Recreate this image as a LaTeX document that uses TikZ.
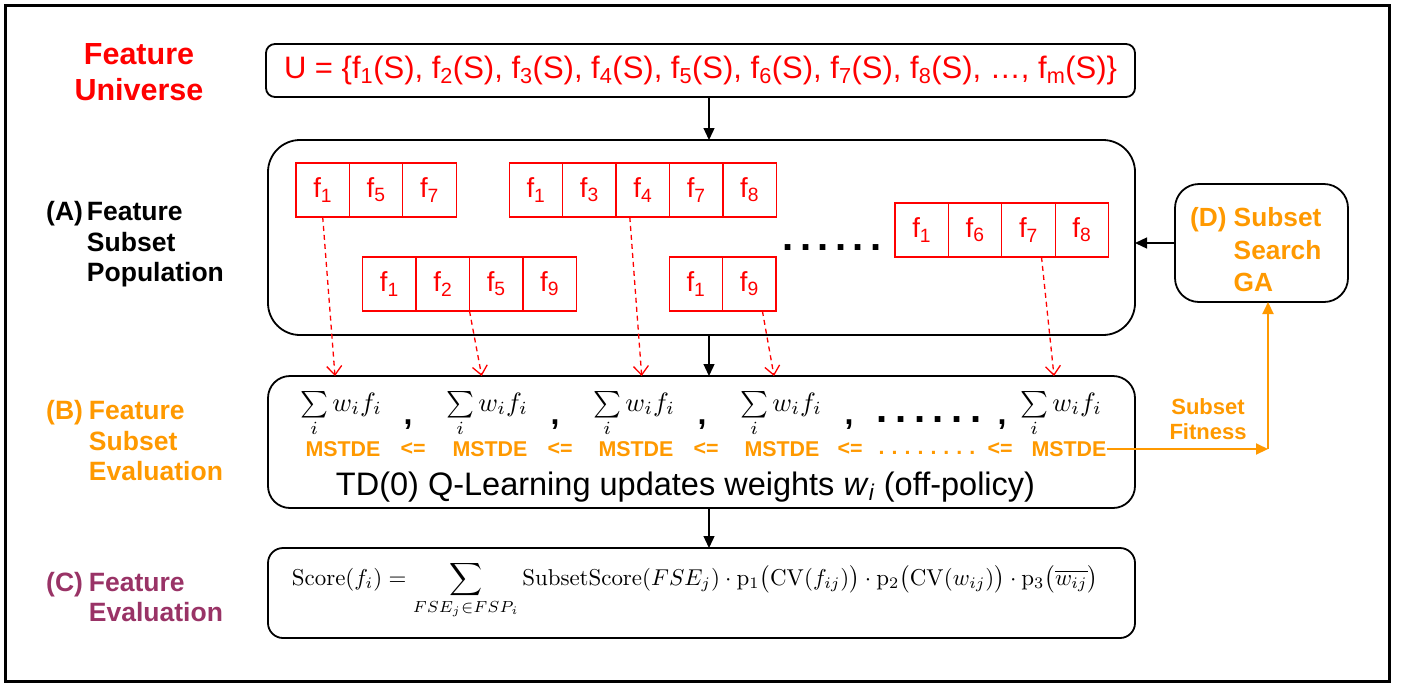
\RequirePackage{fix-cm}
\documentclass[tikz,border=0pt]{standalone}
\usepackage[no-math]{fontspec}
\usepackage{graphicx}
\setmainfont{Liberation Sans}
\usetikzlibrary{arrows.meta,calc}
\definecolor{fred}{RGB}{255,0,0}
\definecolor{forange}{RGB}{255,153,0}
\definecolor{fpurple}{RGB}{153,51,102}
\newcommand\fz[2]{\fontsize{#1}{#2}\selectfont}
% one feature subset: name prefix, left x, top y, list of feature indices
\newcommand\featset[4]{%
  \foreach \v [count=\k] in {#4} {
    \node[cell] (#1\k) at ({#2+(\k-1)*53.4},#3) {f\textsubscript{\v}};
  }}
\newcommand\wsum{\scalebox{2.65}{\fontsize{10}{12}\selectfont$\sum\limits_{i} w_i f_i$}}
\tikzset{
  frame/.style={draw, line width=3pt},
  stage/.style={draw, line width=1.8pt, inner sep=0pt, outer sep=0pt},
  cell/.style={draw=fred, line width=1.3pt, minimum width=53.4pt, minimum height=54pt,
    inner sep=0pt, outer sep=0pt, text=fred, font=\fz{27.5}{27.5}, anchor=north west},
  flow/.style={line width=1.3pt, -{Triangle[length=12pt,width=11pt]}},
  pick/.style={draw=fred, line width=1.3pt, dash pattern=on 5pt off 4pt,
    -{Straight Barb[length=9pt,width=15pt]}},
  fitline/.style={draw=forange, line width=2pt, -{Triangle[length=12pt,width=11pt]}},
  sidelabel/.style={font=\bfseries\fz{26.5}{30.5}, anchor=west, inner sep=0pt},
  wsumnode/.style={anchor=base, inner sep=0pt},
  comma/.style={font=\bfseries\fz{32}{32}, anchor=base, inner sep=0pt},
  mst/.style={font=\bfseries\fz{21.4}{21.4}, text=forange, inner sep=0pt},
}
\begin{document}
\begin{tikzpicture}[x=1pt,y=-1pt]
\useasboundingbox (0,0) rectangle (1405,686);
\draw[frame] (5,5) rectangle (1389,681);

% stage labels on the left
\node[text=fred, align=center, font=\bfseries\fz{30.5}{36}] (universe) at (139,72) {Feature\\Universe};
\node[sidelabel] (labA) at (46,245)
  {\begin{tabular}{@{}l@{\hspace{4pt}}l@{}}(A)&Feature\\&Subset\\&Population\end{tabular}};
\node[sidelabel, text=forange] (labB) at (46,444)
  {\begin{tabular}{@{}l@{\hspace{6pt}}l@{}}(B)&Feature\\&Subset\\&Evaluation\end{tabular}};
\node[sidelabel, text=fpurple] (labC) at (46,600.5)
  {\begin{tabular}{@{}l@{\hspace{6pt}}l@{}}(C)&Feature\\&Evaluation\end{tabular}};

% main boxes
\node[stage, rounded corners=9pt, minimum width=869pt, minimum height=53pt,
  text=fred, font=\fz{31}{31}] (U) at (700.5,70.5)
  {U = \{f\textsubscript{1}(S), f\textsubscript{2}(S), f\textsubscript{3}(S), f\textsubscript{4}(S), f\textsubscript{5}(S), f\textsubscript{6}(S), f\textsubscript{7}(S), f\textsubscript{8}(S), \dots, f\textsubscript{m}(S)\}};
\node[stage, rounded corners=32pt, minimum width=867pt, minimum height=195pt] (A) at (701.5,237.5) {};
\node[stage, rounded corners=22pt, minimum width=867pt, minimum height=132pt] (B) at (701.5,442) {};
\node[stage, rounded corners=15pt, minimum width=867pt, minimum height=90pt] (C) at (701.5,593) {};
\node[stage, rounded corners=24pt, minimum width=173pt, minimum height=118pt] (D) at (1261.5,243) {};
\node[sidelabel, text=forange, font=\bfseries\fz{26.3}{32.5}] (labD) at (1190,252.5)
  {\begin{tabular}{@{}l@{\hspace{7pt}}l@{}}(D)&Subset\\&Search\\&GA\end{tabular}};

% feature subsets in the population
\featset{sa}{296}{163}{1,5,7}
\featset{sb}{509.3}{163}{1,3,4,7,8}
\featset{sc}{362.7}{257}{1,2,5,9}
\featset{sd}{669.3}{257}{1,9}
\featset{se}{895}{203}{1,6,7,8}
\node[inner sep=0pt, font=\bfseries\fz{40}{40}] (more) at (832,247.5)
  {.\hspace{6.4pt}.\hspace{6.4pt}.\hspace{6.4pt}.\hspace{6.4pt}.\hspace{6.4pt}.};

% subset evaluation row
\node[wsumnode] (w1) at (341,411) {\wsum};
\node[wsumnode] (w2) at (487,411) {\wsum};
\node[wsumnode] (w3) at (634,411) {\wsum};
\node[wsumnode] (w4) at (781,411) {\wsum};
\node[wsumnode] (w5) at (1061,411) {\wsum};
\node[comma] (c1) at (408,424) {,};
\node[comma] (c2) at (555,424) {,};
\node[comma] (c3) at (702,424) {,};
\node[comma] (c4) at (849,424) {,};
\node[comma] (c5) at (1002,424) {,};
\node[inner sep=0pt, font=\bfseries\fz{40}{40}] (etc) at (929,420)
  {.\hspace{7.6pt}.\hspace{7.6pt}.\hspace{7.6pt}.\hspace{7.6pt}.\hspace{7.6pt}.};
\node[mst] (m1) at (343,449) {MSTDE};
\node[mst] (m2) at (490,449) {MSTDE};
\node[mst] (m3) at (636,449) {MSTDE};
\node[mst] (m4) at (782,449) {MSTDE};
\node[mst] (m5) at (1069,449) {MSTDE};
\node[mst] (le1) at (413,449) {<=};
\node[mst] (le2) at (560,449) {<=};
\node[mst] (le3) at (706,449) {<=};
\node[mst] (le4) at (850,449) {<=};
\node[mst] (le5) at (1000,449) {<=};
\node[mst] (mdots) at (927,453) {.\hspace{7pt}.\hspace{7pt}.\hspace{7pt}.\hspace{7pt}.\hspace{7pt}.\hspace{7pt}.\hspace{7pt}.};
\node[inner sep=0pt, font=\fz{32.5}{32.5}] (td) at (685.5,487)
  {TD(0) Q-Learning updates weights \textit{w}\textsubscript{\textit{i}} (off-policy)};

% feature evaluation formula
\node[inner sep=0pt, anchor=base] (score) at (695,585)
  {\resizebox{806pt}{!}{\fontsize{10}{12}\selectfont$\displaystyle \mathrm{Score}(f_i) = \sum_{FSE_j \in FSP_i} \mathrm{SubsetScore}(FSE_j)\cdot \mathrm{p}_1\bigl(\mathrm{CV}(f_{ij})\bigr)\cdot \mathrm{p}_2\bigl(\mathrm{CV}(w_{ij})\bigr)\cdot \mathrm{p}_3\bigl(\overline{w_{ij}}\bigr)$}};

% fitness feedback label
\node[text=forange, align=center, inner sep=0pt, font=\bfseries\fz{22}{25}] (fitlab) at (1208,419.5) {Subset\\Fitness};

% main flow
\coordinate (axis) at (709,0);
\draw[flow] (U.south -| axis) -- (A.north -| axis);
\draw[flow] (A.south -| axis) -- (B.north -| axis);
\draw[flow] (B.south -| axis) -- (C.north -| axis);
\draw[flow] (D.west) -- (D.west -| A.east);

% fitness feedback to the search
\coordinate (turn) at (1268,0);
\draw[fitline] (m5.east) -- (m5.east -| turn);
\draw[fitline] (m5.east -| turn) -- (turn |- D.south);

% chosen subsets to their evaluations
\coordinate (t1) at (335,0);
\coordinate (t2) at (481.7,0);
\coordinate (t3) at (641.7,0);
\coordinate (t4) at (774,0);
\coordinate (t5) at (1054,0);
\draw[pick] (sa1.south) -- (t1 |- B.north);
\draw[pick] (sc2.south east) -- (t2 |- B.north);
\draw[pick] ($(sb3.south)+(-13,0)$) -- (t3 |- B.north);
\draw[pick] ($(sd2.south)+(13,0)$) -- (t4 |- B.north);
\draw[pick] ($(se3.south)+(13,0)$) -- (t5 |- B.north);
\end{tikzpicture}
\end{document}
